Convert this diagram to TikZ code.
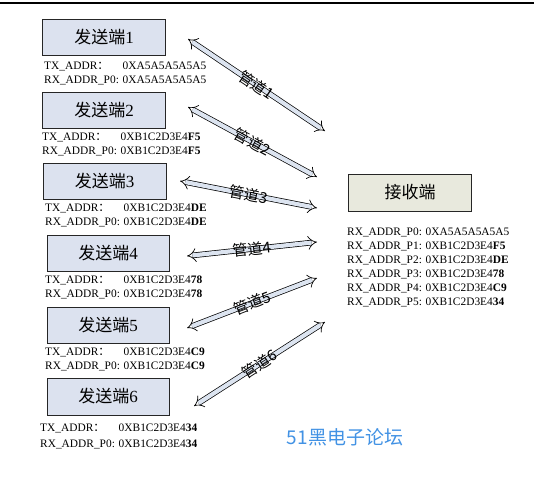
\documentclass[tikz,border=0pt]{standalone}
\usepackage{fontspec}
\setmainfont{Liberation Serif}
\newfontfamily\cjk{Noto Sans CJK SC}
\usetikzlibrary{arrows.meta}
\definecolor{boxfill}{HTML}{DCE2EF}
\definecolor{rxfill}{HTML}{E8E9DD}
\definecolor{pipefill}{HTML}{DCE4F0}
\definecolor{bbsblue}{RGB}{66,146,228}
\tikzset{
  sendbox/.style={draw=black!85, line width=0.8pt, fill=boxfill, minimum width=123pt, minimum height=36pt, inner sep=0pt, font=\fontsize{17}{17}\selectfont},
  recvbox/.style={sendbox, fill=rxfill},
  addr/.style={anchor=west, inner sep=0pt, font=\fontsize{11.4}{14}\selectfont, align=left},
  pipe/.style={double=pipefill, double distance=4.2pt, line width=0.7pt, {Implies}-{Implies}},
  pipelbl/.style={midway, sloped, inner sep=0pt, font=\cjk\fontsize{15}{15}\selectfont}
}
\newcommand{\cln}{{\cjk ：}}
\begin{document}
\begin{tikzpicture}[x=1pt,y=-1pt]
\useasboundingbox (0,0) rectangle (534,495);
\draw[line width=2pt] (0,3.5) -- (534,3.5);

% sender boxes
\node[sendbox] (s1) at (104,37.5) {{\cjk 发送端}1};
\node[sendbox] (s2) at (104,110) {{\cjk 发送端}2};
\node[sendbox] (s3) at (104.5,181) {{\cjk 发送端}3};
\node[sendbox, minimum width=122pt] (s4) at (108,253) {{\cjk 发送端}4};
\node[sendbox, minimum width=122pt] (s5) at (108,325) {{\cjk 发送端}5};
\node[sendbox, minimum width=122pt, minimum height=37pt] (s6) at (108,396.5) {{\cjk 发送端}6};
\node[recvbox, minimum height=37pt] (r) at (410,192.5) {{\cjk 接收端}};

% address labels
\node[addr] (t1) at (44,73.5) {\begin{tabular}{@{}l@{ }l@{}}TX\_ADDR\cln & 0XA5A5A5A5A5\\ RX\_ADDR\_P0: & 0XA5A5A5A5A5\end{tabular}};
\node[addr] (t2) at (42,145) {\begin{tabular}{@{}l@{ }l@{}}TX\_ADDR\cln & 0XB1C2D3E4\textbf{F5}\\ RX\_ADDR\_P0: & 0XB1C2D3E4\textbf{F5}\end{tabular}};
\node[addr] (t3) at (45,216) {\begin{tabular}{@{}l@{ }l@{}}TX\_ADDR\cln & 0XB1C2D3E4\textbf{DE}\\ RX\_ADDR\_P0: & 0XB1C2D3E4\textbf{DE}\end{tabular}};
\node[addr] (t4) at (45,287.5) {\begin{tabular}{@{}l@{ }l@{}}TX\_ADDR\cln & 0XB1C2D3E4\textbf{78}\\ RX\_ADDR\_P0: & 0XB1C2D3E4\textbf{78}\end{tabular}};
\node[addr] (t5) at (45,360) {\begin{tabular}{@{}l@{ }l@{}}TX\_ADDR\cln & 0XB1C2D3E4\textbf{C9}\\ RX\_ADDR\_P0: & 0XB1C2D3E4\textbf{C9}\end{tabular}};
\node[addr, font=\fontsize{11.4}{16}\selectfont] (t6) at (40,436) {\begin{tabular}{@{}l@{ }l@{}}TX\_ADDR\cln & 0XB1C2D3E4\textbf{34}\\ RX\_ADDR\_P0: & 0XB1C2D3E4\textbf{34}\end{tabular}};
\node[addr] (rl) at (347,267.5) {RX\_ADDR\_P0: 0XA5A5A5A5A5\\
RX\_ADDR\_P1: 0XB1C2D3E4\textbf{F5}\\
RX\_ADDR\_P2: 0XB1C2D3E4\textbf{DE}\\
RX\_ADDR\_P3: 0XB1C2D3E4\textbf{78}\\
RX\_ADDR\_P4: 0XB1C2D3E4\textbf{C9}\\
RX\_ADDR\_P5: 0XB1C2D3E4\textbf{34}};

% pipe end points
\coordinate (p1a) at (188,39);  \coordinate (p1b) at (325,131);
\coordinate (p2a) at (188,107); \coordinate (p2b) at (317,177);
\coordinate (p3a) at (180,181); \coordinate (p3b) at (317,208);
\coordinate (p4a) at (187,256); \coordinate (p4b) at (317,242);
\coordinate (p5a) at (187,328); \coordinate (p5b) at (317,278);
\coordinate (p6a) at (194,406); \coordinate (p6b) at (325,322);

\draw[pipe] (p1a) -- node[pipelbl] {管道1} (p1b);
\draw[pipe] (p2a) -- node[pipelbl] {管道2} (p2b);
\draw[pipe] (p3a) -- node[pipelbl] {管道3} (p3b);
\draw[pipe] (p4a) -- node[pipelbl] {管道4} (p4b);
\draw[pipe] (p5a) -- node[pipelbl] {管道5} (p5b);
\draw[pipe] (p6a) -- node[pipelbl] {管道6} (p6b);

\node[text=bbsblue, font=\cjk\fontsize{19}{19}\selectfont] (bbs) at (345,437) {51黑电子论坛};
\end{tikzpicture}
\end{document}
